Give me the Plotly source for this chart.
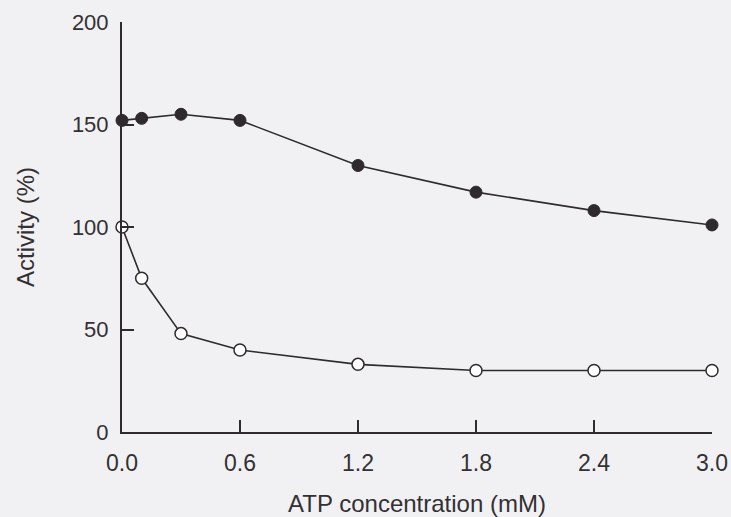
import plotly.graph_objects as go

atp = [0.0, 0.1, 0.3, 0.6, 1.2, 1.8, 2.4, 3.0]
filled_activity = [152, 153, 155, 152, 130, 117, 108, 101]
open_activity = [100, 75, 48, 40, 33, 30, 30, 30]
x_ticks = [0.0, 0.6, 1.2, 1.8, 2.4, 3.0]
x_tick_labels = ["0.0", "0.6", "1.2", "1.8", "2.4", "3.0"]
y_ticks = [0, 50, 100, 150, 200]

ink = "#2e2a2e"
text_ink = "#333033"
bg = "#f1f1f3"

fig = go.Figure()
fig.add_trace(go.Scatter(
    x=atp, y=filled_activity, mode="lines+markers",
    line=dict(color=ink, width=1.6),
    marker=dict(symbol="circle", size=12, color=ink, line=dict(color=ink, width=1)),
    cliponaxis=False, showlegend=False))
fig.add_trace(go.Scatter(
    x=atp, y=open_activity, mode="lines+markers",
    line=dict(color=ink, width=1.6),
    marker=dict(symbol="circle", size=12, color="white", line=dict(color=ink, width=1.5)),
    cliponaxis=False, showlegend=False))

font_family = "Liberation Sans, Arial, sans-serif"
fig.update_layout(
    width=731, height=517,
    margin=dict(l=122, r=19, t=22, b=85),
    paper_bgcolor=bg, plot_bgcolor=bg,
    font=dict(family=font_family, size=22, color=text_ink),
    xaxis=dict(
        range=[0, 3.0], tickvals=x_ticks, ticktext=x_tick_labels,
        ticks="inside", ticklen=12, tickwidth=1.8, tickcolor=ink,
        showline=True, linecolor=ink, linewidth=2, mirror=False,
        showgrid=False, zeroline=False, ticklabelstandoff=9,
        tickfont=dict(size=23), automargin=False,
        title=dict(text="ATP concentration (mM)", standoff=24,
                   font=dict(size=24))),
    yaxis=dict(
        range=[0, 200], tickvals=y_ticks,
        ticks="inside", ticklen=12, tickwidth=1.8, tickcolor=ink,
        showline=True, linecolor=ink, linewidth=2, mirror=False,
        showgrid=False, zeroline=False, ticklabelstandoff=7,
        tickfont=dict(size=22), automargin=False,
        title=dict(text="Activity (%)", standoff=30, font=dict(size=24))),
)

fig.write_html("out.html")
